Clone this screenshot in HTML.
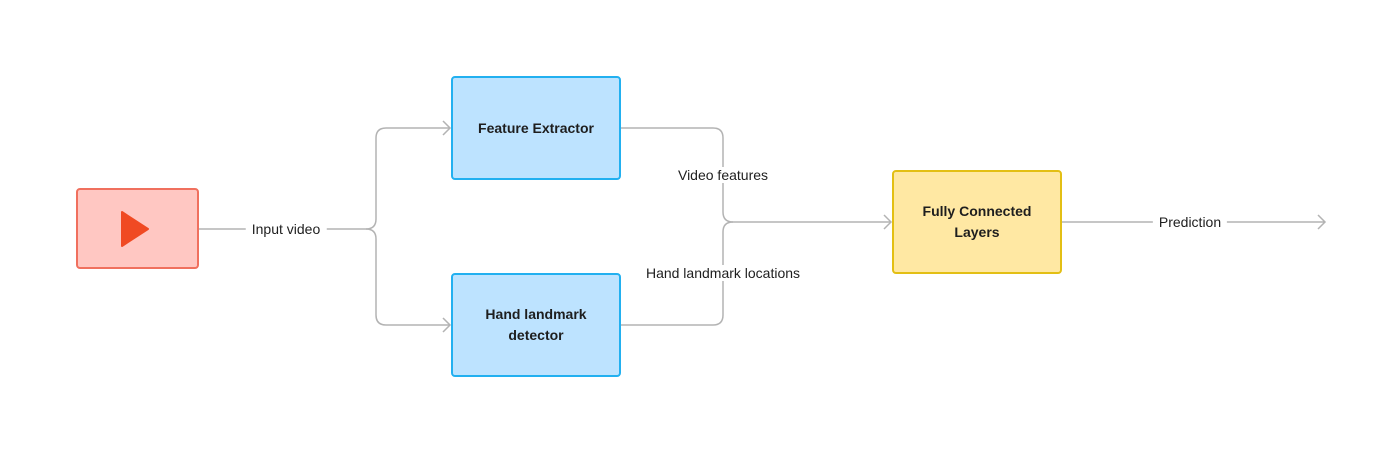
<!DOCTYPE html>
<html><head><style>
body{margin:0;background:#fff;width:1400px;height:453px;overflow:hidden;font-family:"Liberation Sans",sans-serif}
.b{position:absolute;box-sizing:border-box;border-radius:4px;display:flex;align-items:center;justify-content:center;text-align:center;font-weight:bold;font-size:14px;color:#1e1e1e;line-height:21px}
.l{position:absolute;font-size:14px;color:#1e1e1e;background:#fff;transform:translate(-50%,-50%);white-space:nowrap;padding:0 6px}
</style></head><body>
<svg width="1400" height="453" style="position:absolute;left:0;top:0" fill="none" stroke="#b3b3b3" stroke-width="1.5">
<path d="M199 229 H366 Q376 229 376 219 V138 Q376 128 386 128 H450"/>
<path d="M366 229 Q376 229 376 239 V315 Q376 325 386 325 H450"/>
<path d="M443 121 L450 128 L443 135 M443 318 L450 325 L443 332"/>
<path d="M621 128 H713 Q723 128 723 138 V212 Q723 222 733 222 H891"/>
<path d="M621 325 H713 Q723 325 723 315 V232 Q723 222 733 222"/>
<path d="M884 215 L891 222 L884 229"/>
<path d="M1062 222 H1325 M1318 215 L1325 222 L1318 229"/>
</svg>
<div class="b" style="left:76px;top:188px;width:123px;height:81px;background:#ffc7c2;border:2px solid #f0705e"></div>
<svg width="34" height="40" viewBox="0 0 34 40" style="position:absolute;left:118px;top:209px"><path d="M4 3 L30 20 L4 37 Z" fill="#f04a23" stroke="#f04a23" stroke-width="2" stroke-linejoin="round"/></svg>
<div class="b" style="left:451px;top:76px;width:170px;height:104px;background:#bde3ff;border:2px solid #22b0f0;align-items:flex-start;padding-top:40px">Feature Extractor</div>
<div class="b" style="left:451px;top:273px;width:170px;height:104px;background:#bde3ff;border:2px solid #22b0f0">Hand landmark<br>detector</div>
<div class="b" style="left:892px;top:170px;width:170px;height:104px;background:#ffe8a3;border:2px solid #e3bf14">Fully Connected<br>Layers</div>
<div class="l" style="left:286px;top:229px">Input video</div>
<div class="l" style="left:723px;top:175px">Video features</div>
<div class="l" style="left:723px;top:273px">Hand landmark locations</div>
<div class="l" style="left:1190px;top:222px">Prediction</div>
</body></html>
